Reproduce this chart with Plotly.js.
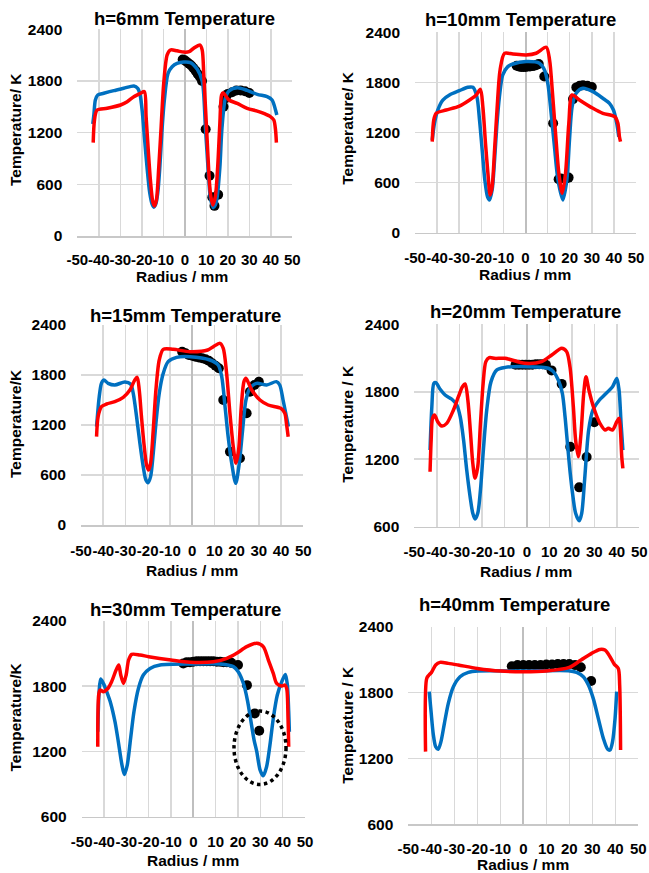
<!DOCTYPE html>
<html><head><meta charset="utf-8">
<script src="https://cdn.plot.ly/plotly-3.0.1.min.js"></script>
<style>html,body{margin:0;padding:0;background:#fff;}#chart{width:649px;height:873px;}</style>
</head><body><div id="chart"></div>
<script>
// ---- h = 6 mm ----
const h6_blue_x = [-42.8,-42.3,-41.6,-40.5,-37.7,-33,-28.4,-23.7,-21.9,-20.8,-19.8,-18.8,-17.5,-16.3,-15.2,-14.4,-13.5,-12.6,-11.6,-10.7,-9.5,-7.8,-5.9,-3.6,-0.5,2.6,5.8,8.1,8.8,9.6,10.4,11.2,11.9,13.2,14.2,15.0,16.3,17.3,18.9,20.5,24.4,29,33.7,38.3,40.6,42.2,42.8];
const h6_blue_y = [1300,1405,1579,1637,1657,1688,1715,1742,1715,1640,1450,1150,780,500,370,335,370,495,805,1192,1580,1889,1966,2005,2020,2014,1936,1800,1645,1258,948,639,445,329,360,445,793,1258,1606,1683,1722,1691,1645,1618,1579,1463,1405];
const h6_red_x = [-42.6,-42,-40.8,-36.1,-29.9,-26.8,-23.7,-20.6,-18.8,-18,-17,-16,-14.9,-14.1,-13.2,-12.1,-11,-9.8,-8.2,-6.7,-3.6,-0.5,2,4,7.1,8.1,8.8,9.6,10.4,11.2,11.9,13.0,14.2,15.3,16.3,17.1,17.8,20.5,24.4,29,33.7,37,39.8,41.4,42.2,42.6];
const h6_red_y = [1084,1347,1463,1483,1521,1560,1618,1657,1676,1386,999,650,399,348,418,805,1270,1773,2102,2160,2150,2135,2140,2178,2217,2159,1889,1502,1115,728,496,360,457,805,1309,1637,1664,1579,1540,1482,1450,1420,1386,1347,1231,1084];
const h6_exp_x = [-1,0,1,2,3,4,5,6,7,8,9.7,11.5,12.8,13.8,15.5,18,19,20,22,24,26,28,30];
const h6_exp_y = [2050,2040,2020,2000,1980,1950,1920,1880,1850,1800,1240,700,450,350,480,1500,1600,1650,1670,1690,1690,1680,1660];

// ---- h = 10 mm ----
const h10_blue_x = [-42.2,-41.2,-39.7,-37.4,-34.4,-29.9,-26.1,-23.8,-22,-20.8,-19.6,-18.4,-17.2,-16.3,-15.1,-14,-13,-11.8,-10.3,-8,-5.7,0.3,6.3,8.6,10.1,11.6,13.1,14.7,16.9,18.7,19.9,21.1,22.9,26,30.5,35,38,39.8,41.3,42.2];
const h10_blue_y = [1110,1310,1469,1589,1649,1701,1741,1741,1629,1350,990,631,431,391,511,870,1270,1629,1889,1989,2020,2049,2029,1949,1789,1430,1030,631,392,631,1110,1510,1670,1729,1689,1610,1549,1469,1310,1150];
const h10_red_x = [-42.2,-41.5,-40.4,-35.9,-29.9,-25.3,-22.3,-20.4,-19.3,-18.1,-17,-16,-15.1,-14,-12.8,-11.5,-9.5,-5.7,0.3,4.8,9.4,10.9,12.1,13.6,15.1,16.6,18.1,19.6,21.1,24.4,30.5,35,40.4,41.8,42.5,43];
const h10_red_y = [1090,1350,1430,1469,1517,1589,1649,1717,1509,1070,711,451,551,990,1509,1949,2148,2140,2129,2149,2221,2069,1709,1190,711,472,711,1310,1650,1590,1490,1430,1390,1310,1150,1090];
const h10_exp_x = [-4,-3,-2,-1,0,1,2,3,4,5,6,8.5,12.5,15,16,18.5,19.5,21.5,23,24.5,26,28,30];
const h10_exp_y = [2000,1990,1985,1985,1985,1990,1990,1995,2000,2010,2020,1870,1310,640,650,650,660,1600,1740,1760,1765,1760,1745];

// ---- h = 15 mm ----
const h15_blue_x = [-43,-41.8,-40.8,-39.7,-37.8,-34.8,-30.3,-27.7,-26.5,-25,-23.5,-22,-20.8,-19.8,-18.7,-17.5,-16.3,-14.8,-13,-10.8,-7,-1,8,11.7,13.3,14.8,16.2,17.8,19.6,21.2,22.7,24.2,26,29,33.5,37.9,39.4,40.9,42.4,43.3];
const h15_blue_y = [1180,1540,1700,1740,1700,1680,1716,1692,1580,1300,980,700,540,508,580,860,1220,1580,1820,1960,2012,2020,1980,1920,1780,1420,1060,740,500,740,1140,1500,1640,1700,1680,1720,1680,1500,1300,1180];
const h15_red_x = [-43,-42.3,-40.8,-38.5,-34.8,-31,-28,-25.8,-24.7,-23.8,-22.8,-21.7,-20.5,-19.6,-18.7,-17.5,-16.3,-14.8,-13,-8.5,-1,7,9.5,12.5,14,15.5,17,18.5,19.7,20.9,22.1,23.3,24.2,26.8,30.5,34.2,39.9,41.7,42.4,43.2];
const h15_red_y = [1060,1300,1420,1452,1480,1532,1620,1740,1772,1620,1300,980,720,660,740,1140,1620,1980,2108,2108,2080,2100,2140,2180,2120,1820,1340,940,740,900,1420,1720,1760,1620,1500,1440,1400,1340,1220,1060];
const h15_exp_x = [-4.5,-3,-1.5,0,1.5,3,4.5,6,7.5,9,10.5,12,14,17,21.5,24.5,26,28,30];
const h15_exp_y = [2080,2060,2040,2030,2020,2010,2000,1990,1970,1940,1910,1880,1500,880,800,1340,1600,1680,1720];

// ---- h = 20 mm ----
const h20_blue_x = [-43,-42.2,-41.3,-40.4,-38.5,-36.3,-33.3,-31.1,-29.6,-28.1,-26.7,-25.2,-24,-23,-21.8,-20.6,-19.3,-17.8,-15.9,-13.3,-9.6,0,9.6,11.8,14,15.8,17,18.2,19.3,20.5,21.7,23.3,24.4,25.7,27.5,29.4,32.3,34.5,38.1,40,41,41.9,42.7];
const h20_blue_y = [1282,1667,1875,1881,1822,1771,1733,1682,1578,1371,1104,867,719,668,719,926,1282,1638,1890,1994,2017,2023,2009,1979,1905,1786,1578,1311,1075,870,720,653,719,1017,1461,1638,1727,1771,1845,1919,1816,1519,1282];
const h20_red_x = [-43,-42.5,-41.9,-41,-39.6,-37.8,-35.6,-32.6,-30.4,-28.6,-27.4,-26.2,-25,-24,-23,-21.8,-20.6,-19.4,-18.2,-16.7,-14.1,-9.7,-0.8,6.6,11.1,15.5,17.7,19.2,20.7,21.7,22.9,24.1,25.3,26.3,27.6,29.6,32.5,34.8,36.3,38.1,40,41,41.6,42.2,42.7];
const h20_red_y = [1089,1371,1564,1593,1534,1495,1519,1638,1756,1845,1869,1727,1430,1163,1030,1134,1519,1875,2068,2103,2097,2098,2053,2068,2127,2187,2157,2020,1665,1371,1222,1430,1786,1934,1816,1667,1520,1460,1475,1460,1534,1564,1460,1223,1119];
const h20_exp_x = [-5,-3.5,-2,-0.5,1,2.5,4,5.5,7,8.5,11,15.5,19.3,23.3,26.6,30];
const h20_exp_y = [2040,2040,2040,2040,2040,2040,2045,2045,2045,2040,1990,1870,1310,950,1220,1530];

// ---- h = 30 mm ----
const h30_blue_x = [-42.8,-42.2,-41.5,-40.3,-38.8,-37,-35.1,-33.6,-32.1,-30.9,-29.6,-28.1,-26.6,-24.6,-22.4,-19.4,-14.9,0,12,17.9,20.1,22.4,24.2,25.7,27.2,28.4,29.9,31.3,32.8,34.3,35.8,37.6,39.6,41.2,42.1,42.7,43];
const h30_blue_y = [1382,1750,1866,1826,1750,1642,1474,1290,1091,989,1075,1320,1566,1780,1903,1964,1995,2004,2005,1980,1934,1827,1673,1489,1305,1198,1029,977,1060,1259,1504,1719,1842,1909,1811,1566,1382];
const h30_red_x = [-42.8,-42.4,-41.8,-40.3,-38.5,-36.6,-34.6,-33.4,-32.5,-31.3,-30.1,-29,-27.6,-23.9,-20,-10,-1.5,9,15,19.4,23.9,28.4,31.3,33.6,35.8,37.3,39.6,41,41.8,42.4,42.7];
const h30_red_y = [1244,1719,1765,1750,1774,1842,1949,1995,1903,1826,1903,2041,2093,2087,2072,2041,2020,2025,2057,2103,2164,2195,2164,2041,1918,1826,1802,1811,1780,1504,1244];
const h30_exp_x = [-4.5,-3,-1.5,0,1.5,3,4.5,6,7.5,9,10.5,12,13.5,15,17,20,24,27.5,29.5];
const h30_exp_y = [2010,2020,2020,2025,2030,2030,2030,2030,2030,2030,2025,2025,2020,2020,2015,1995,1810,1550,1390];

// ---- h = 40 mm ----
const h40_blue_x = [-40.9,-40.1,-39.1,-38.1,-37,-35.8,-34.3,-32.6,-30.4,-27.5,-23.9,-19.6,0,19.6,23.2,26.1,28.3,30.4,32.6,34.8,36.7,37.7,38.8,39.9,40.6];
const h40_blue_y = [1808,1626,1413,1307,1283,1353,1520,1702,1853,1944,1984,1996,1996,1999,1984,1944,1869,1747,1565,1383,1283,1277,1353,1565,1808];
const h40_red_x = [-42.5,-42,-41,-39.9,-38.1,-36.2,-32.6,-28.3,-20,-10,0,10,20,25.1,29.7,33.3,35.5,37.7,39.6,41.3,41.9,42.3];
const h40_red_y = [1262,1929,1960,1984,2051,2075,2066,2051,2020,1996,1990,1996,2029,2096,2157,2193,2187,2127,2057,2020,1869,1277];
const h40_exp_x = [-5,-2.5,0,2.5,5,7.5,10,12.5,15,17.5,20,22.5,25,29.5];
const h40_exp_y = [2040,2050,2050,2050,2050,2050,2055,2055,2060,2060,2060,2050,2030,1905];

const panelTitles = ['h=6mm Temperature','h=10mm Temperature','h=15mm Temperature','h=20mm Temperature','h=30mm Temperature','h=40mm Temperature'];
const yTitles = ['Temperature/ K','Temperature/ K','Temperature/K','Temperature / K','Temperature/K','Temperature / K'];
const xTitle = 'Radius / mm';
const xTickVals = [-50,-40,-30,-20,-10,0,10,20,30,40,50];
const xTickText = ['-50','-40','-30','-20','-10','0','10','20','30','40','50'];
const yTickValsLow = [0,600,1200,1800,2400];
const yTickValsHigh = [600,1200,1800,2400];

const W = 649, H = 873;
// plot-area boxes in px: [left, right, top, bottom]
const boxes = [
  [77.3, 292.3, 29.3, 236],
  [415, 636, 32.3, 232.7],
  [81, 303.3, 325, 525],
  [414.3, 639.3, 324.3, 526.7],
  [81.7, 305, 621, 816.7],
  [408.3, 638.3, 626.7, 824.3]
];
const yRanges = [[0,2400],[0,2400],[0,2400],[600,2400],[600,2400],[600,2400]];
const titlePos = [[184,18],[520.5,19.5],[185.7,315],[525.5,311.7],[185,609],[514,604.5]];
const yTitlePos = [[15,130],[346.7,128],[15,424],[346.7,424],[15,717.5],[346.7,725]];
const xTitlePos = [[182,276],[525.3,274],[192.2,570],[525.8,571],[193,860],[522.5,864]];
const xStandoff = [9, 11, 11, 11, 11, 10];

const series = [
  [h6_blue_x,h6_blue_y,h6_red_x,h6_red_y,h6_exp_x,h6_exp_y],
  [h10_blue_x,h10_blue_y,h10_red_x,h10_red_y,h10_exp_x,h10_exp_y],
  [h15_blue_x,h15_blue_y,h15_red_x,h15_red_y,h15_exp_x,h15_exp_y],
  [h20_blue_x,h20_blue_y,h20_red_x,h20_red_y,h20_exp_x,h20_exp_y],
  [h30_blue_x,h30_blue_y,h30_red_x,h30_red_y,h30_exp_x,h30_exp_y],
  [h40_blue_x,h40_blue_y,h40_red_x,h40_red_y,h40_exp_x,h40_exp_y]
];

const FONT = 'Liberation Sans, Arial, sans-serif';
const traces = [];
const layout = {
  width: W, height: H,
  margin: {l:0, r:0, t:0, b:0},
  paper_bgcolor: '#fff', plot_bgcolor: '#fff',
  showlegend: false,
  annotations: [], shapes: []
};

series.forEach((s, i) => {
  const n = i === 0 ? '' : String(i+1);
  const xa = 'x' + n, ya = 'y' + n;
  traces.push({x: s[4], y: s[5], xaxis: xa, yaxis: ya, type: 'scatter', mode: 'markers',
    marker: {color: '#000', size: 10}, hoverinfo: 'skip'});
  traces.push({x: s[0], y: s[1], xaxis: xa, yaxis: ya, type: 'scatter', mode: 'lines',
    line: {color: '#0070C0', width: 3.5, shape: 'spline', smoothing: 0.8}, hoverinfo: 'skip'});
  traces.push({x: s[2], y: s[3], xaxis: xa, yaxis: ya, type: 'scatter', mode: 'lines',
    line: {color: '#FF0000', width: 3.5, shape: 'spline', smoothing: 0.8}, hoverinfo: 'skip'});
  const b = boxes[i];
  layout['xaxis' + n] = {
    domain: [b[0]/W, b[1]/W], anchor: ya, range: [-50, 50],
    tickmode: 'array', tickvals: xTickVals, ticktext: xTickText, tickangle: 0, ticks: '',
    ticklabelstandoff: xStandoff[i],
    tickfont: {family: FONT, size: 15, color: '#000', weight: 'bold'},
    showgrid: true, gridcolor: '#d9d9d9', gridwidth: 1.5,
    zeroline: true, zerolinecolor: '#bfbfbf', zerolinewidth: 2,
    showline: true, linecolor: '#c8c8c8', linewidth: 1.5, fixedrange: true
  };
  const yt = yRanges[i][0] === 0 ? yTickValsLow : yTickValsHigh;
  layout['yaxis' + n] = {
    domain: [1 - b[3]/H, 1 - b[2]/H], anchor: xa, range: yRanges[i],
    tickmode: 'array', tickvals: yt, ticks: '', ticklabelstandoff: 14,
    tickfont: {family: FONT, size: 15.5, color: '#000', weight: 'bold'},
    showgrid: true, gridcolor: '#d9d9d9', gridwidth: 1.5,
    zeroline: false, showline: false, fixedrange: true
  };
  layout.annotations.push({text: '<b>' + panelTitles[i] + '</b>', xref: 'paper', yref: 'paper',
    x: titlePos[i][0]/W, y: 1 - titlePos[i][1]/H, xanchor: 'center', yanchor: 'middle',
    showarrow: false, font: {family: FONT, size: 18.5, color: '#000'}});
  layout.annotations.push({text: '<b>' + yTitles[i] + '</b>', xref: 'paper', yref: 'paper',
    x: yTitlePos[i][0]/W, y: 1 - yTitlePos[i][1]/H, xanchor: 'center', yanchor: 'middle',
    textangle: -90, showarrow: false, font: {family: FONT, size: 15.5, color: '#000'}});
  layout.annotations.push({text: '<b>' + xTitle + '</b>', xref: 'paper', yref: 'paper',
    x: xTitlePos[i][0]/W, y: 1 - xTitlePos[i][1]/H, xanchor: 'center', yanchor: 'middle',
    showarrow: false, font: {family: FONT, size: 15.5, color: '#000'}});
});

// dotted ellipse on the h=30mm panel
const ellipse_x = [18.2, 41.5];
const ellipse_y = [897, 1572];
layout.shapes.push({type: 'circle', xref: 'x5', yref: 'y5',
  x0: ellipse_x[0], x1: ellipse_x[1], y0: ellipse_y[0], y1: ellipse_y[1],
  line: {color: '#000', width: 3.5, dash: 'dot'}, fillcolor: 'rgba(0,0,0,0)'});

Plotly.newPlot('chart', traces, layout, {displayModeBar: false, staticPlot: true});
</script></body></html>
